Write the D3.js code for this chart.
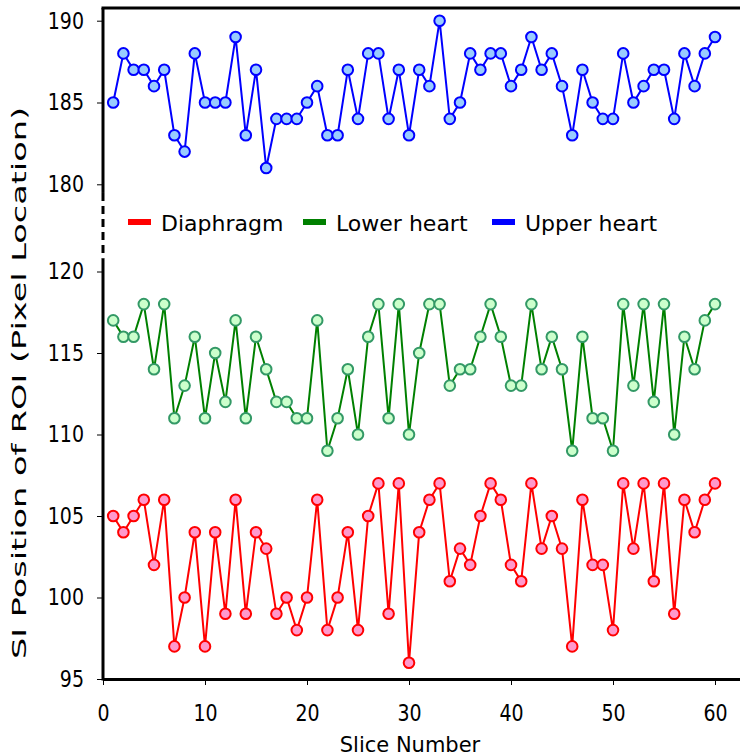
<!DOCTYPE html>
<html>
<head>
<meta charset="utf-8">
<script src="https://cdn.jsdelivr.net/npm/d3@7"></script>
<style>
    body { margin: 0; background: #fff; }
    svg text { font-family: "DejaVu Sans", Verdana, sans-serif; fill: #000; }
    .stretch { transform-box: fill-box; transform-origin: center; transform: scaleY(1.2); }
</style>
</head>
<body>
<svg id="chart" width="740" height="756"></svg>
<script>

// Data
const slices = d3.range(1, 61);
const diaphragm = [105, 104, 105, 106, 102, 106, 97, 100, 104, 97, 104, 99, 106, 99, 104, 103, 99, 100, 98, 100,
    106, 98, 100, 104, 98, 105, 107, 99, 107, 96, 104, 106, 107, 101, 103, 102, 105, 107, 106, 102,
    101, 107, 103, 105, 103, 97, 106, 102, 102, 98, 107, 103, 107, 101, 107, 99, 106, 104, 106, 107];
const lowerHeart = [117, 116, 116, 118, 114, 118, 111, 113, 116, 111, 115, 112, 117, 111, 116, 114, 112, 112, 111, 111,
    117, 109, 111, 114, 110, 116, 118, 111, 118, 110, 115, 118, 118, 113, 114, 114, 116, 118, 116, 113,
    113, 118, 114, 116, 114, 109, 116, 111, 111, 109, 118, 113, 118, 112, 118, 110, 116, 114, 117, 118];
const upperHeart = [185, 188, 187, 187, 186, 187, 183, 182, 188, 185, 185, 185, 189, 183, 187, 181, 184, 184, 184, 185,
    186, 183, 183, 187, 184, 188, 188, 184, 187, 183, 187, 186, 190, 184, 185, 188, 187, 188, 188, 186,
    187, 189, 187, 188, 186, 183, 187, 185, 184, 184, 188, 185, 186, 187, 187, 184, 188, 186, 188, 189];
const xTicks = [0, 10, 20, 30, 40, 50, 60];
const lowerTicks = [95, 100, 105, 110, 115, 120];
const upperTicks = [180, 185, 190];
const seriesNames = ["Diaphragm", "Lower heart", "Upper heart"];

const svg = d3.select("#chart");

// Scales
const x = d3.scaleLinear().domain([0, 62.45]).range([103, 740]);
const yLow = d3.scaleLinear().domain([95, 120]).range([679, 271.5]);
const yUp = d3.scaleLinear().domain([180, 190]).range([184.3, 20.7]);
const lowTop = yLow(120.8), upTop = 8, upBottom = yUp(179.47);

const series = [
    { name: seriesNames[0], values: diaphragm, y: yLow, line: "#ff0000", fill: "#ff99cc", edge: "#ff0000" },
    { name: seriesNames[1], values: lowerHeart, y: yLow, line: "#008000", fill: "#ccffcc", edge: "#339966" },
    { name: seriesNames[2], values: upperHeart, y: yUp, line: "#0000ff", fill: "#99ccff", edge: "#0000ff" }
];

svg.append("clipPath").attr("id", "clipUp")
    .append("rect").attr("x", 90).attr("y", 14).attr("width", 660).attr("height", upBottom - 14);

// Lines and markers
series.forEach(s => {
    const g = svg.append("g");
    if (s.y === yUp) g.attr("clip-path", "url(#clipUp)");
    const line = d3.line().x((d, i) => x(slices[i])).y(d => s.y(d));
    g.append("path")
        .datum(s.values)
        .attr("d", line)
        .attr("fill", "none")
        .attr("stroke", s.line)
        .attr("stroke-width", 2);
    g.selectAll("circle")
        .data(s.values)
        .join("circle")
        .attr("cx", (d, i) => x(slices[i]))
        .attr("cy", d => s.y(d))
        .attr("r", 5.3)
        .attr("fill", s.fill)
        .attr("stroke", s.edge)
        .attr("stroke-width", 2);
});

// Axes
const xAxis = svg.append("g")
    .attr("transform", `translate(0,${yLow(95)})`)
    .call(d3.axisBottom(x).tickValues(xTicks).tickSize(6).tickSizeOuter(0));
xAxis.select(".domain").attr("stroke-width", 3);
xAxis.selectAll("text").attr("font-size", 19).attr("dy", 32).classed("stretch", true);

const lowAxis = svg.append("g")
    .attr("transform", `translate(${x(0)},0)`)
    .call(d3.axisLeft(yLow).tickValues(lowerTicks).tickSize(6).tickSizeOuter(0));
const upAxis = svg.append("g")
    .attr("transform", `translate(${x(0)},0)`)
    .call(d3.axisLeft(yUp).tickValues(upperTicks).tickSize(6).tickSizeOuter(0));
[lowAxis, upAxis].forEach(a => {
    a.select(".domain").remove();
    a.selectAll("text").attr("font-size", 19).attr("x", -19).classed("stretch", true);
});

// Left axis with break
svg.append("line").attr("x1", x(0)).attr("x2", x(0)).attr("y1", upTop).attr("y2", upBottom)
    .attr("stroke", "#000").attr("stroke-width", 3);
svg.append("line").attr("x1", x(0)).attr("x2", x(0)).attr("y1", upBottom).attr("y2", lowTop)
    .attr("stroke", "#000").attr("stroke-width", 3).attr("stroke-dasharray", "8,5");
svg.append("line").attr("x1", x(0)).attr("x2", x(0)).attr("y1", lowTop).attr("y2", yLow(95) + 1.5)
    .attr("stroke", "#000").attr("stroke-width", 3);
// Top frame line
svg.append("line").attr("x1", x(0) - 1.5).attr("x2", 740).attr("y1", upTop).attr("y2", upTop)
    .attr("stroke", "#000").attr("stroke-width", 3);

// Axis titles
svg.append("text")
    .attr("x", 410).attr("y", 752)
    .attr("text-anchor", "middle")
    .attr("font-size", 21)
    .text("Slice Number");
svg.append("text")
    .attr("transform", "translate(26,383) rotate(-90)")
    .attr("text-anchor", "middle")
    .attr("font-family", "'DejaVu Sans Condensed', 'DejaVu Sans', sans-serif")
    .attr("font-size", 20)
    .attr("textLength", 552)
    .attr("lengthAdjust", "spacingAndGlyphs")
    .text("SI Position of ROI (Pixel Location)");

// Legend
const legendX = [128, 303, 492];
const legend = svg.append("g");
series.forEach((s, i) => {
    legend.append("rect")
        .attr("x", legendX[i]).attr("y", 219)
        .attr("width", 23).attr("height", 6)
        .attr("fill", s.line);
    legend.append("text")
        .attr("x", legendX[i] + 33).attr("y", 223)
        .attr("dy", "0.36em")
        .attr("font-size", 22)
        .text(s.name);
});
</script>
</body>
</html>
